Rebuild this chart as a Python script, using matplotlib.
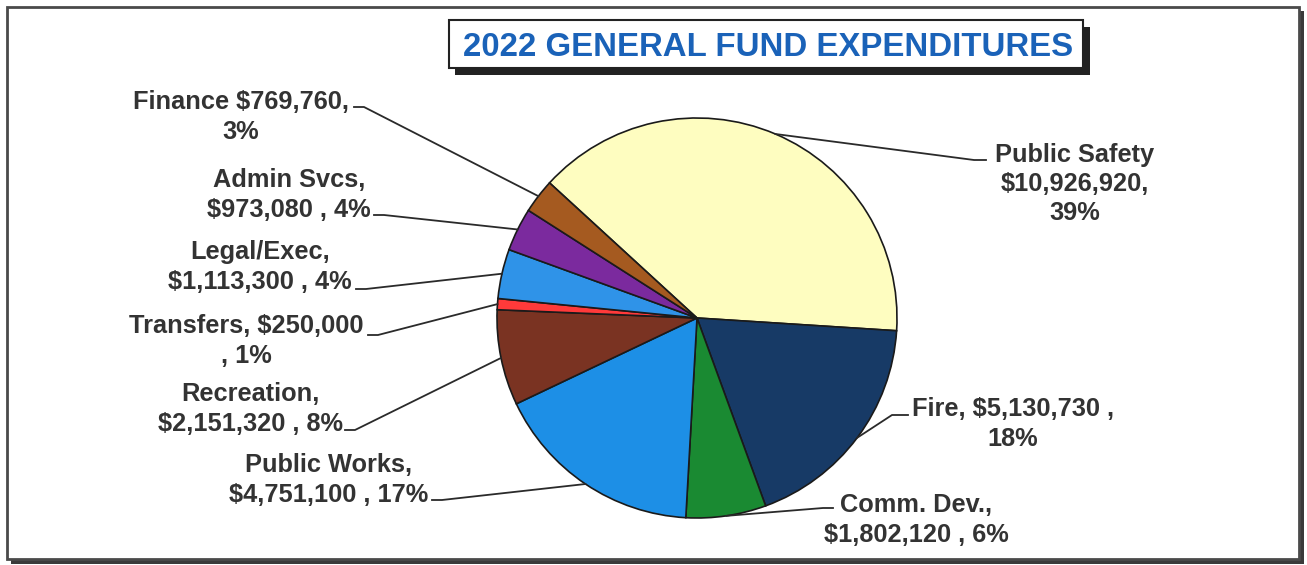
import matplotlib.pyplot as plt
from matplotlib.patches import Rectangle
import numpy as np

W, H = 1307, 565

categories = ["Public Safety", "Fire", "Comm. Dev.", "Public Works", "Recreation",
              "Transfers", "Legal/Exec", "Admin Svcs", "Finance"]
amounts = [10926920, 5130730, 1802120, 4751100, 2151320, 250000, 1113300, 973080, 769760]
labels = [
    "Public Safety\n$10,926,920,\n39%",
    "Fire, $5,130,730 ,\n18%",
    "Comm. Dev.,\n$1,802,120 , 6%",
    "Public Works,\n$4,751,100 , 17%",
    "Recreation,\n$2,151,320 , 8%",
    "Transfers, $250,000\n, 1%",
    "Legal/Exec,\n$1,113,300 , 4%",
    "Admin Svcs,\n$973,080 , 4%",
    "Finance $769,760,\n3%",
]
colors = ["#fefdc0", "#173a66", "#1a8a32", "#1d8fe6", "#7a3322",
          "#ff3a3a", "#2f93e8", "#7b2a9e", "#a55a20"]

# label block centres and leader start points, in pixels from top-left
label_xy = [(1075, 184), (1013, 424), (916, 520), (329, 480), (250, 409),
            (246, 341), (260, 267), (289, 195), (241, 117)]
leader_start = [(986, 160), (908, 415), (833, 508), (432, 500), (345, 430),
                (368, 335), (356, 289), (374, 215), (354, 107)]
stubs = [12, 16, 10, 10, 10, 10, 10, 10, 10]

cx, cy, r = 697, 318, 200

fig = plt.figure(figsize=(W / 100, H / 100), dpi=100)
ax = fig.add_axes([0, 0, 1, 1])

# outer frame with drop shadow
ax.add_patch(Rectangle((11, H - 564), 1293, 553, facecolor="#3a3a3a", edgecolor="none"))
ax.add_patch(Rectangle((6.5, H - 559), 1292.5, 552.5, facecolor="white",
                       edgecolor="#4a4a4a", linewidth=2))

wedges, _ = ax.pie(amounts, colors=colors, startangle=137.5, counterclock=False,
                   center=(cx, H - cy), radius=r, frame=True,
                   wedgeprops=dict(edgecolor="#1a1a1a", linewidth=1.2))

txt = dict(ha="center", va="center", fontsize=18.3, fontweight="bold",
           color="#333333", family="Liberation Sans", linespacing=1.28)
for w, lab, (tx, ty), (sx, sy), st in zip(wedges, labels, label_xy, leader_start, stubs):
    mid = np.deg2rad((w.theta1 + w.theta2) / 2)
    ex, ey = cx + r * np.cos(mid), (H - cy) + r * np.sin(mid)
    stub = -st if sx > cx else st
    ax.plot([sx, sx + stub, ex], [H - sy, H - sy, ey], color="#2a2a2a", lw=1.3, zorder=3)
    ax.text(tx, H - ty, lab, **txt)

# title box with shadow
ax.add_patch(Rectangle((455, H - 75), 635, 48, facecolor="#222222", edgecolor="none", zorder=4))
ax.add_patch(Rectangle((449, H - 68), 634, 48, facecolor="white",
                       edgecolor="#222222", linewidth=1.5, zorder=5))
ax.text(768, H - 47.5, "2022 GENERAL FUND EXPENDITURES", ha="center", va="center",
        fontsize=23.8, fontweight="bold", color="#1a62b8", family="Liberation Sans", zorder=6)

ax.set_xlim(0, W)
ax.set_ylim(0, H)
ax.set_aspect("equal")
ax.axis("off")

fig.savefig("out.png", dpi=100)
